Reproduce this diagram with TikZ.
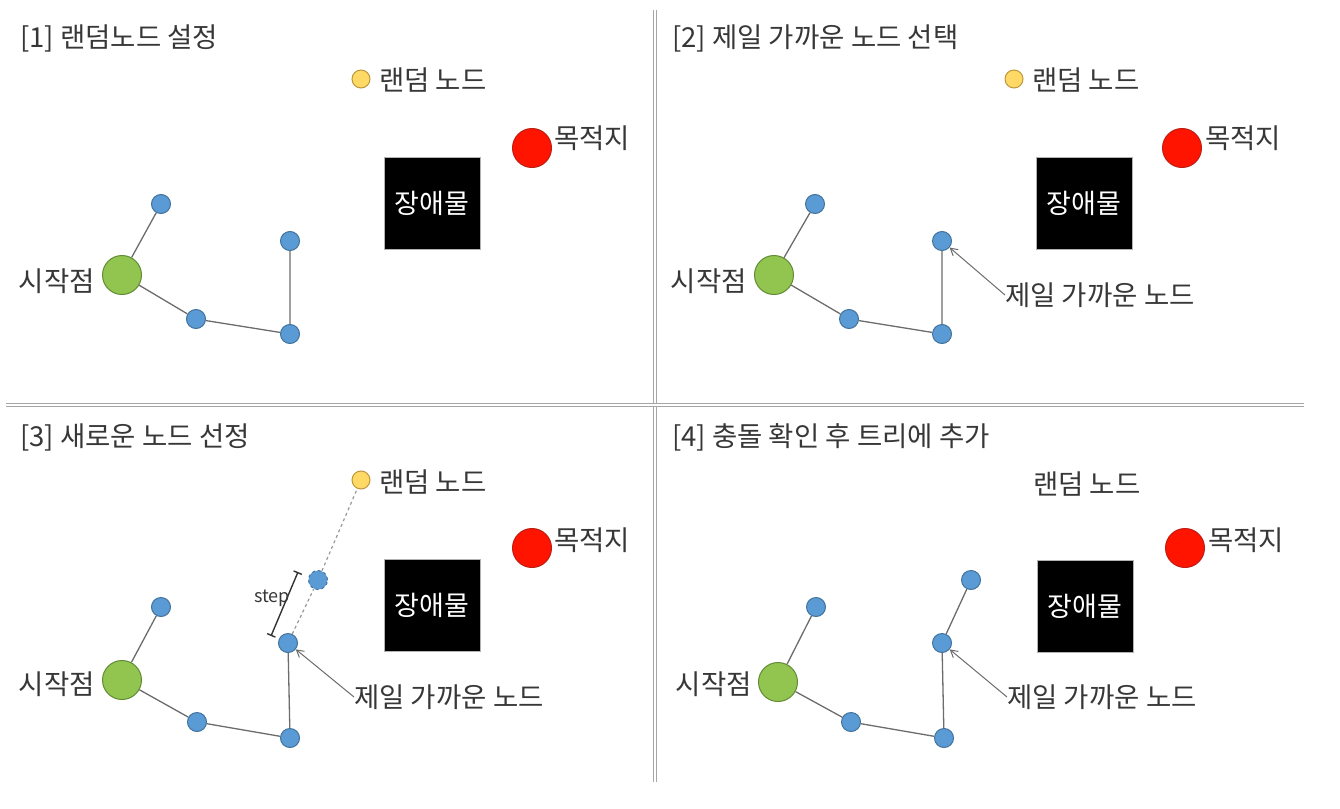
\documentclass[tikz,border=0pt]{standalone}
\usepackage{fontspec}
\setmainfont{Noto Sans CJK KR}
\usetikzlibrary{arrows.meta}
\definecolor{nblue}{RGB}{91,155,213}
\definecolor{nblueline}{RGB}{65,113,156}
\definecolor{ngreen}{RGB}{146,196,80}
\definecolor{ngreenline}{RGB}{98,140,52}
\definecolor{nyellow}{RGB}{255,217,102}
\definecolor{nyellowline}{RGB}{190,150,60}
\definecolor{nred}{RGB}{255,20,0}
\definecolor{nredline}{RGB}{190,30,20}
\definecolor{txtgray}{RGB}{55,55,55}
\tikzset{
  tnode/.style={circle,fill=nblue,draw=nblueline,line width=1pt,minimum size=19pt,inner sep=0pt},
  startnode/.style={circle,fill=ngreen,draw=ngreenline,line width=1pt,minimum size=39pt,inner sep=0pt},
  goalnode/.style={circle,fill=nred,draw=nredline,line width=1pt,minimum size=39pt,inner sep=0pt},
  randnode/.style={circle,fill=nyellow,draw=nyellowline,line width=1pt,minimum size=18pt,inner sep=0pt},
  obstacle/.style={fill=black,draw=gray!60,minimum width=96pt,minimum height=92pt,text=white,font=\fontsize{27}{29}\selectfont},
  lbl/.style={text=txtgray,font=\fontsize{27.5}{30}\selectfont,inner sep=0pt},
  ptitle/.style={lbl,anchor=west,font=\fontsize{27.5}{30}\selectfont},
  edge/.style={draw=gray!85!black,line width=1.3pt},
  pointer/.style={draw=gray!85!black,line width=1pt,-{Straight Barb[length=7pt,width=8pt]}},
  divider/.style={draw=gray!70,double=white,double distance=1.6pt,line width=1.5pt}
}
\begin{document}
\begin{tikzpicture}[x=1pt,y=-1pt]
  \useasboundingbox (0,0) rectangle (1340,808);
  \draw[divider] (655,10) -- (655,782);
  \draw[divider] (6,405) -- (1304,405);
  % [1]
  \node[ptitle] (t1) at (20,38) {[1] 랜덤노드 설정};
  \node[randnode] (r1) at (361,79) {};
  \node[lbl,anchor=west] (rl1) at (379,80) {랜덤 노드};
  \node[goalnode] (g1) at (532,148) {};
  \node[lbl,anchor=west] (gl1) at (554,138) {목적지};
  \node[obstacle] (o1) at (432,203) {장애물};
  \node[startnode] (s1) at (122,275) {};
  \node[lbl,anchor=east] (sl1) at (95,281) {시작점};
  \node[tnode] (a1) at (161,204) {};
  \node[tnode] (b1) at (196,319) {};
  \node[tnode] (c1) at (290,334) {};
  \node[tnode] (d1) at (290,241) {};
  \draw[edge] (s1) -- (a1) (s1) -- (b1) (b1) -- (c1) (c1) -- (d1);
  % [2]
  \node[ptitle] (t2) at (672,38) {[2] 제일 가까운 노드 선택};
  \node[randnode] (r2) at (1014,79) {};
  \node[lbl,anchor=west] (rl2) at (1032,80) {랜덤 노드};
  \node[goalnode] (g2) at (1182,148) {};
  \node[lbl,anchor=west] (gl2) at (1205,138) {목적지};
  \node[obstacle] (o2) at (1084,203) {장애물};
  \node[startnode] (s2) at (774,275) {};
  \node[lbl,anchor=east] (sl2) at (747,281) {시작점};
  \node[tnode] (a2) at (815,204) {};
  \node[tnode] (b2) at (849,319) {};
  \node[tnode] (c2) at (942,334) {};
  \node[tnode] (d2) at (942,241) {};
  \draw[edge] (s2) -- (a2) (s2) -- (b2) (b2) -- (c2) (c2) -- (d2);
  \node[lbl,anchor=west] (nl2) at (1005,295) {제일 가까운 노드};
  \draw[pointer] (nl2.west) -- (d2);
  % [3]
  \node[ptitle] (t3) at (20,437) {[3] 새로운 노드 선정};
  \node[randnode] (r3) at (361,480) {};
  \node[lbl,anchor=west] (rl3) at (379,482) {랜덤 노드};
  \node[goalnode] (g3) at (532,548) {};
  \node[lbl,anchor=west] (gl3) at (554,540) {목적지};
  \node[obstacle] (o3) at (432,605) {장애물};
  \node[startnode] (s3) at (122,680) {};
  \node[lbl,anchor=east] (sl3) at (95,684) {시작점};
  \node[tnode] (a3) at (161,607) {};
  \node[tnode] (b3) at (197,722) {};
  \node[tnode] (c3) at (290,738) {};
  \node[tnode] (d3) at (288,643) {};
  \node[tnode,dashed] (n3) at (318,580) {};
  \draw[edge] (s3) -- (a3) (s3) -- (b3) (b3) -- (c3) (c3) -- (d3);
  \draw[edge,gray!80,dashed,line width=1.2pt] (d3) -- (n3) -- (r3);
  \coordinate (st1) at (298,572);
  \coordinate (st2) at (271,636);
  \draw[line width=1.4pt,black!80,{Bar[width=9pt]}-{Bar[width=9pt]}] (st1) -- (st2);
  \node[text=txtgray,font=\fontsize{18}{20}\selectfont,anchor=east,inner sep=0pt] (sl) at (290,598) {step};
  \node[lbl,anchor=west] (nl3) at (354,697) {제일 가까운 노드};
  \draw[pointer] (nl3.west) -- (d3);
  % [4]
  \node[ptitle] (t4) at (672,437) {[4] 충돌 확인 후 트리에 추가};
  \node[lbl,anchor=west] (rl4) at (1033,484) {랜덤 노드};
  \node[goalnode] (g4) at (1185,548) {};
  \node[lbl,anchor=west] (gl4) at (1208,540) {목적지};
  \node[obstacle] (o4) at (1085,606) {장애물};
  \node[startnode] (s4) at (778,682) {};
  \node[lbl,anchor=east] (sl4) at (752,684) {시작점};
  \node[tnode] (a4) at (816,607) {};
  \node[tnode] (b4) at (851,722) {};
  \node[tnode] (c4) at (944,738) {};
  \node[tnode] (d4) at (942,643) {};
  \node[tnode] (n4) at (971,580) {};
  \draw[edge] (s4) -- (a4) (s4) -- (b4) (b4) -- (c4) (c4) -- (d4) (d4) -- (n4);
  \node[lbl,anchor=west] (nl4) at (1007,697) {제일 가까운 노드};
  \draw[pointer] (nl4.west) -- (d4);
\end{tikzpicture}
\end{document}
